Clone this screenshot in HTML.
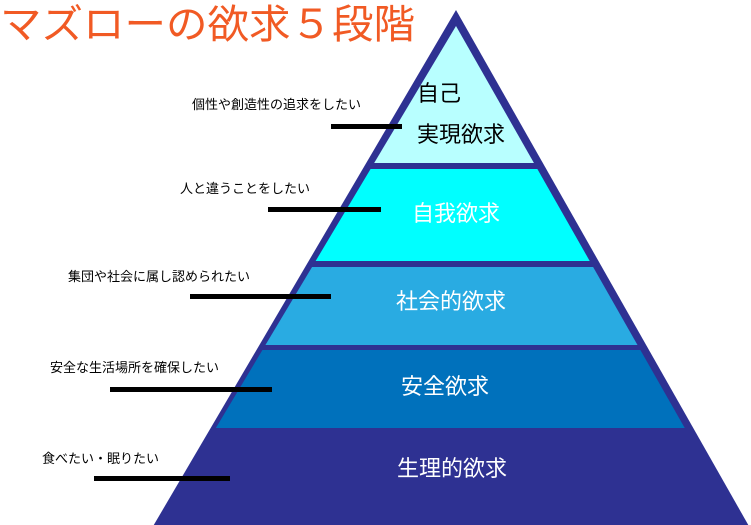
<!DOCTYPE html>
<html><head><meta charset="utf-8"><style>
html,body{margin:0;padding:0;background:#fff;width:751px;height:525px;overflow:hidden}
svg{display:block}
text{font-family:"Liberation Sans","Noto Sans CJK JP",sans-serif}
</style></head><body>
<svg width="751" height="525" viewBox="0 0 751 525" xmlns="http://www.w3.org/2000/svg">
<defs><clipPath id="inner"><polygon points="456,26 140,555 757,555"/></clipPath></defs>
<polygon points="456,10 152,528 750,528" fill="#2E3192"/>
<g clip-path="url(#inner)">
<rect x="0" y="0" width="751" height="163" fill="#B8FFFF"/>
<rect x="0" y="169" width="751" height="92" fill="#00FFFF"/>
<rect x="0" y="267" width="751" height="78" fill="#29ABE2"/>
<rect x="0" y="350" width="751" height="78" fill="#0071BC"/>
</g>
<text x="0" y="38" font-size="40" fill="#F15A24" textLength="415" lengthAdjust="spacingAndGlyphs">マズローの欲求５段階</text>
<text x="417" y="101" font-size="22" fill="#000">自己</text>
<text x="417" y="142" font-size="22" fill="#000">実現欲求</text>
<text x="456" y="221" font-size="22" fill="#fff" text-anchor="middle">自我欲求</text>
<text x="451" y="309" font-size="22" fill="#fff" text-anchor="middle">社会的欲求</text>
<text x="445" y="394" font-size="22" fill="#fff" text-anchor="middle">安全欲求</text>
<text x="452" y="476" font-size="22" fill="#fff" text-anchor="middle">生理的欲求</text>
<g font-size="13" fill="#000">
<text x="192" y="109">個性や創造性の追求をしたい</text>
<text x="180" y="193">人と違うことをしたい</text>
<text x="68" y="281">集団や社会に属し認められたい</text>
<text x="50" y="372">安全な生活場所を確保したい</text>
<text x="42" y="463">食べたい・眠りたい</text>
</g>
<g fill="#000">
<rect x="331" y="124" width="71" height="5"/>
<rect x="268" y="207" width="113" height="5"/>
<rect x="190" y="294" width="141" height="5"/>
<rect x="110" y="387" width="162" height="5"/>
<rect x="94" y="476" width="136" height="5"/>
</g>
</svg>
</body></html>
